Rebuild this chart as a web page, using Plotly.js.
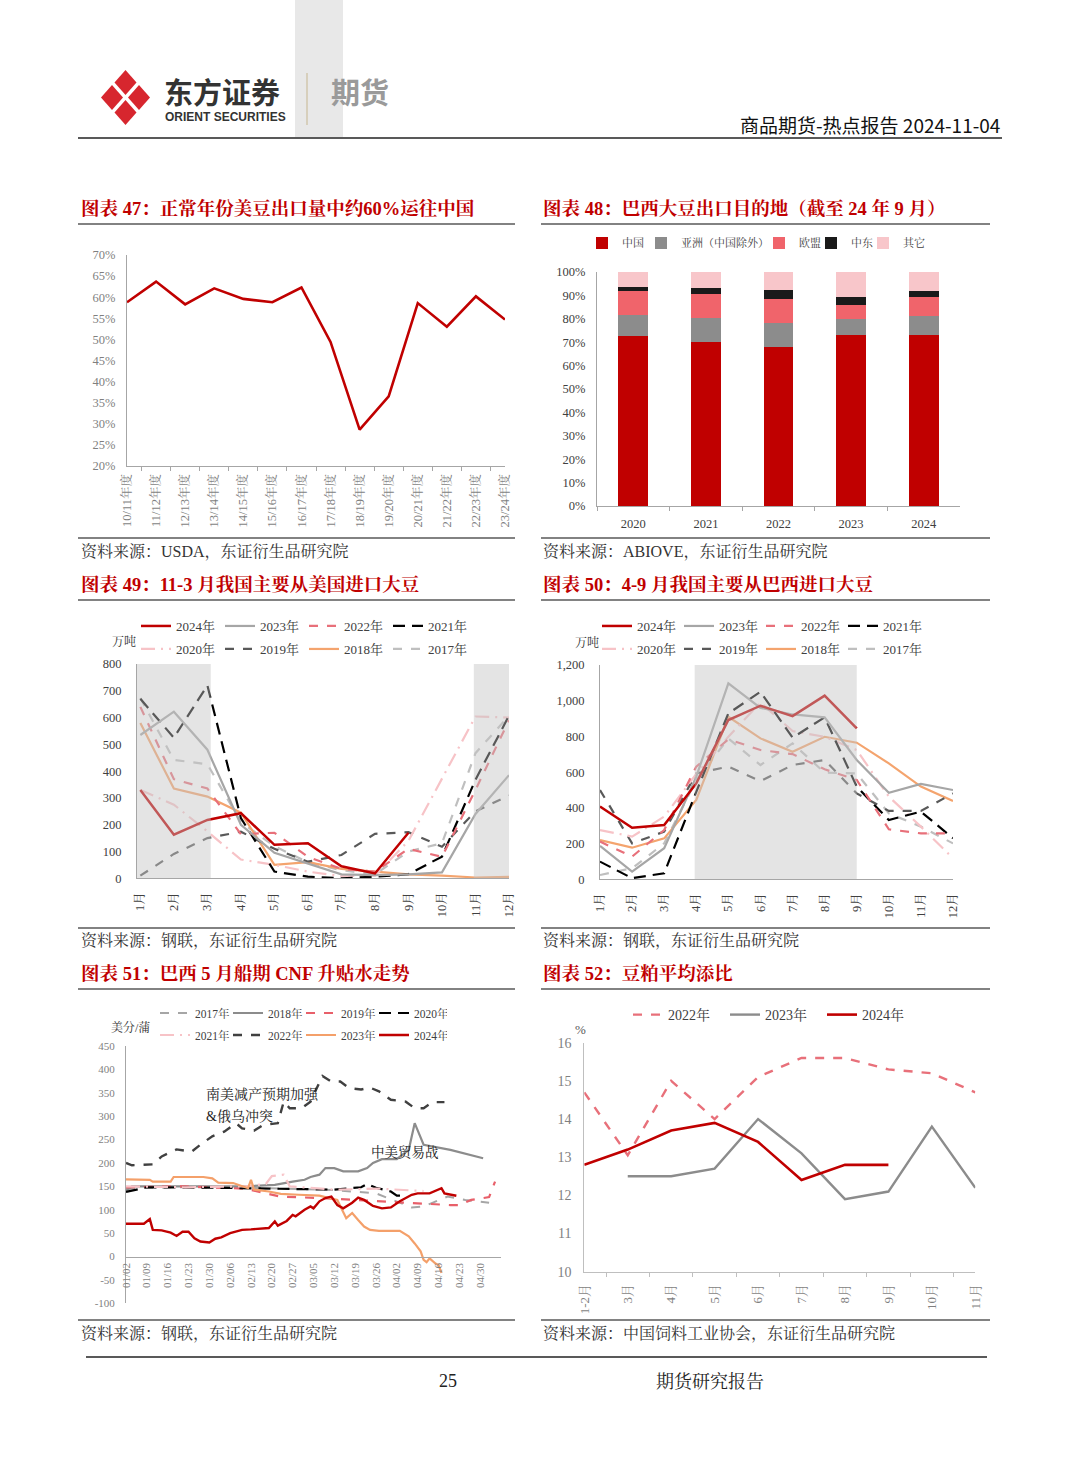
<!DOCTYPE html>
<html><head><meta charset="utf-8">
<script src="https://cdn.plot.ly/plotly-3.0.1.min.js"></script>
<style>body{margin:0;background:#fff}#chart{width:1080px;height:1466px}</style>
</head><body><div id="chart"></div><script>
// ---------------- DATA ----------------
// Chart 47
const seasons47 = ['10/11年度','11/12年度','12/13年度','13/14年度','14/15年度','15/16年度','16/17年度','17/18年度','18/19年度','19/20年度','20/21年度','21/22年度','22/23年度','23/24年度'];
const share47 = [58.8, 63.7, 58.3, 62.1, 59.6, 58.8, 62.3, 49.4, 28.6, 36.5, 58.6, 53.0, 60.2, 54.7];
// Chart 48
const years48 = ['2020','2021','2022','2023','2024'];
const names48 = ['中国','亚洲（中国除外）','欧盟','中东','其它'];
const china48 = [72.7, 70.0, 68.0, 73.0, 73.0];
const asia48 = [9.0, 10.3, 10.3, 7.0, 8.1];
const eu48 = [10.0, 10.4, 10.0, 6.1, 8.2];
const me48 = [1.7, 2.4, 4.1, 3.2, 2.6];
const other48 = [6.6, 6.9, 7.6, 10.7, 8.1];
// Chart 49 / 50
const months = ['1月','2月','3月','4月','5月','6月','7月','8月','9月','10月','11月','12月'];
const yearNames = ['2024年','2023年','2022年','2021年','2020年','2019年','2018年','2017年'];
const us24 = [330,163,218,243,125,131,45,18,170,null,null,null];
const us23 = [535,622,480,200,95,55,15,12,15,22,240,385];
const us22 = [640,370,335,165,170,80,35,25,110,80,330,590];
const us21 = [670,525,720,225,25,6,0,6,15,81,368,607];
const us20 = [330,275,175,70,50,25,8,10,140,370,604,600];
const us19 = [10,91,150,174,110,62,87,166,172,118,250,309];
const us18 = [580,335,305,245,50,60,35,25,15,10,3,5];
const us17 = [673,442,426,210,120,60,30,15,100,131,467,607];
const br24 = [407,289,304,537,892,972,914,1028,845,null,null,null];
const br23 = [187,43,174,575,1097,960,923,907,668,485,534,500];
const br22 = [211,127,276,631,784,724,701,616,556,280,257,257];
const br21 = [99,6,34,490,929,1050,793,907,519,332,379,230];
const br20 = [276,239,351,590,798,990,830,798,724,463,295,118];
const br19 = [500,201,267,593,631,550,640,668,481,383,383,481];
const br18 = [220,177,229,444,910,789,714,798,765,649,519,438];
const br17 = [24,62,201,556,789,640,761,597,593,369,295,201];
const shade49 = [['1月','3月'],['11月','12月']];
const shade50 = [['4月','9月']];
// Chart 51 (dates within 2024 calendar, MM-DD)
const ticks51 = ['01/02','01/09','01/16','01/23','01/30','02/06','02/13','02/20','02/27','03/05','03/12','03/19','03/26','04/02','04/09','04/16','04/23','04/30'];
const names51 = ['2017年','2018年','2019年','2020年','2021年','2022年','2023年','2024年'];
const d51_2017 = ['01-02','01-16','02-06','02-27','03-12','03-26','04-02','04-07','04-11','04-15','04-19','04-25','05-03'];
const v51_2017 = [145,148,148,145,142,135,118,105,107,118,128,121,115];
const d51_2018 = ['01-02','01-04','01-22','02-11','02-21','02-24','02-27','03-02','03-04','03-07','03-09','03-12','03-15','03-20','03-23','03-25','03-28','04-02','04-06','04-08','04-11','04-20','05-01'];
const v51_2018 = [140,150,150,150,153,157,160,164,170,175,189,189,182,182,189,200,208,208,228,285,239,228,210];
const d51_2019 = ['01-02','01-22','02-11','02-23','03-07','03-18','03-29','04-09','04-20','04-23','04-27','05-03','05-05'];
const v51_2019 = [148,150,145,128,125,121,118,114,110,110,121,127,160];
const d51_2020 = ['01-02','01-09','02-01','02-21','03-12','03-21','03-23','03-26','03-31','04-02','04-04'];
const v51_2020 = [138,148,147,145,143,148,155,147,139,130,130];
const d51_2021 = ['01-02','01-22','02-11','02-18','02-20','02-24','02-26','03-12','03-27','04-07','04-11'];
const v51_2021 = [150,148,150,155,172,175,150,143,145,141,140];
const d51_2022 = ['01-02','01-04','01-11','01-14','01-19','01-24','01-27','01-31','02-04','02-08','02-10','02-14','02-17','02-22','02-24','02-26','03-01','03-04','03-08','03-11','03-14','03-17','03-21','03-24','03-27','03-31','04-05','04-08','04-11','04-14','04-18'];
const v51_2022 = [200,195,197,214,229,224,239,257,267,285,274,269,281,285,331,317,317,331,386,374,374,360,357,361,353,335,331,317,317,330,330];
const d51_2023 = ['01-02','01-10','01-11','01-17','01-18','01-28','01-31','02-02','02-07','02-12','02-13','02-14','02-19','02-23','02-29','03-07','03-09','03-13','03-16','03-18','03-20','03-22','03-24','03-27','04-03','04-06','04-08','04-10','04-11','04-12','04-13','04-15','04-16','04-17'];
const v51_2023 = [165,164,160,160,170,170,167,158,157,146,164,143,139,134,132,130,127,121,82,93,78,64,57,55,55,43,28,11,-7,-12,-4,-15,-18,-35];
const d51_2024 = ['01-02','01-08','01-10','01-11','01-14','01-17','01-19','01-21','01-23','01-25','01-27','01-30','02-01','02-03','02-06','02-08','02-10','02-13','02-19','02-21','02-22','02-25','02-27','02-28','03-02','03-04','03-05','03-07','03-09','03-11','03-13','03-15','03-18','03-20','03-22','03-25','03-28','03-31','04-03','04-07','04-09','04-13','04-17','04-18','04-22'];
const v51_2024 = [70,70,80,57,56,51,44,53,53,39,32,30,38,41,50,53,57,58,61,75,66,76,89,86,100,107,103,118,125,128,110,103,115,126,121,108,103,105,118,132,135,135,146,135,130];
// Chart 52
const months52 = ['1-2月','3月','4月','5月','6月','7月','8月','9月','10月','11月'];
const names52 = ['2022年','2023年','2024年'];
const ratio22 = [14.7,13.05,15.0,14.0,15.1,15.6,15.6,15.3,15.2,14.7];
const ratio23 = [null,12.5,12.5,12.7,14.0,13.1,11.9,12.1,13.8,12.2];
const ratio24 = [12.8,13.2,13.7,13.9,13.4,12.4,12.8,12.8,null,null];

// ---------------- HELPERS ----------------
const W = 1080, H = 1466;
const px = x => x / W;
const py = y => 1 - y / H;
const dx = (a, b) => [px(a), px(b)];
const dy = (top, bot) => [py(bot), py(top)];
const SERIF = '"Liberation Serif", "Noto Serif CJK SC", "Noto Sans CJK SC", serif';
const SANS = '"Noto Sans CJK SC", "Liberation Sans", sans-serif';
const RED = '#C00000';
const toDate = a => a.map(s => '2024-' + s);

function ax(extra) {
  return Object.assign({showgrid:false, zeroline:false, showline:true, linecolor:'#A6A6A6', linewidth:1,
    fixedrange:true, ticks:'', automargin:false}, extra);
}
function tf(size, color) { return {family: SERIF, size: size, color: color}; }

const yearStyles = {
  '2024年': {color: RED, width: 2.5, dash: 'solid'},
  '2023年': {color: '#A6A6A6', width: 2.2, dash: 'solid'},
  '2022年': {color: '#E8707A', width: 2.2, dash: 'dash'},
  '2021年': {color: '#000000', width: 2.2, dash: '12px,7px'},
  '2020年': {color: '#F7C3C7', width: 2.2, dash: '14px,6px,2px,6px'},
  '2019年': {color: '#595959', width: 2.2, dash: 'dash'},
  '2018年': {color: '#F4A46E', width: 2.2, dash: 'solid'},
  '2017年': {color: '#BFBFBF', width: 2.2, dash: 'dash'}
};

const traces = [];
// Chart 47
traces.push({type:'scatter', mode:'lines', x:seasons47, y:share47, xaxis:'x', yaxis:'y',
  line:{color:RED, width:2.6}, showlegend:false});
// Chart 48
const cols48 = ['#C00000','#8C8C8C','#F0646B','#1A1A1A','#F8C6CA'];
const lw48 = [14, 73, 7, 7, null];
[china48, asia48, eu48, me48, other48].forEach((vals, i) => {
  const t = {type:'bar', x:years48, y:vals, name:names48[i], xaxis:'x2', yaxis:'y2',
    marker:{color:cols48[i], line:{width:0}}, legend:'legend', legendrank:i};
  if (lw48[i]) t.legendwidth = lw48[i];
  traces.push(t);
});
// Chart 49 & 50
const us = [us24, us23, us22, us21, us20, us19, us18, us17];
const br = [br24, br23, br22, br21, br20, br19, br18, br17];
for (let i = yearNames.length - 1; i >= 0; i--) {
  const nm = yearNames[i], st = yearStyles[nm];
  traces.push({type:'scatter', mode:'lines', x:months, y:us[i], name:nm, xaxis:'x3', yaxis:'y3',
    line:{color:st.color, width:st.width, dash:st.dash}, legend: i < 4 ? 'legend2' : 'legend3', legendrank:i});
  traces.push({type:'scatter', mode:'lines', x:months, y:br[i], name:nm, xaxis:'x4', yaxis:'y4',
    line:{color:st.color, width:st.width, dash:st.dash}, legend: i < 4 ? 'legend4' : 'legend5', legendrank:i});
}
// Chart 51
const style51 = [
  {color:'#A6A6A6', width:2, dash:'dash'},
  {color:'#8C8C8C', width:2.2, dash:'solid'},
  {color:'#E8606A', width:2.2, dash:'dash'},
  {color:'#000000', width:2.2, dash:'12px,7px'},
  {color:'#F7C3C7', width:2.2, dash:'14px,6px,2px,6px'},
  {color:'#404040', width:2.4, dash:'dash'},
  {color:'#F4A06A', width:2.2, dash:'solid'},
  {color:RED, width:2.4, dash:'solid'}
];
const d51 = [d51_2017, d51_2018, d51_2019, d51_2020, d51_2021, d51_2022, d51_2023, d51_2024];
const v51 = [v51_2017, v51_2018, v51_2019, v51_2020, v51_2021, v51_2022, v51_2023, v51_2024];
names51.forEach((nm, i) => {
  traces.push({type:'scatter', mode:'lines', x:toDate(d51[i]), y:v51[i], name:nm, xaxis:'x5', yaxis:'y5',
    line:style51[i], legend: i < 4 ? 'legend6' : 'legend7', legendrank:i});
});
// Chart 52
const style52 = [{color:'#E8707A', width:2.4, dash:'dash'}, {color:'#8C8C8C', width:2.4, dash:'solid'}, {color:RED, width:2.6, dash:'solid'}];
[ratio22, ratio23, ratio24].forEach((vals, i) => {
  traces.push({type:'scatter', mode:'lines', x:months52, y:vals, name:names52[i], xaxis:'x6', yaxis:'y6',
    line:style52[i], legend:'legend8', legendrank:i});
});

// ---------------- AXES ----------------
const range49 = [0, 800], range50 = [0, 1200], range51 = [-100, 450];
const dom51 = dy(1046, 1303.3);
const pos51 = dom51[0] + (dom51[1] - dom51[0]) * (0 - range51[0]) / (range51[1] - range51[0]);
const yt51 = []; for (let v = range51[0]; v <= range51[1]; v += 50) yt51.push(v);

const layout = {
  width: W, height: H, margin:{l:0, r:0, t:0, b:0}, paper_bgcolor:'#fff', plot_bgcolor:'rgba(0,0,0,0)',
  barmode:'stack', bargap:0.59, hovermode:false, showlegend:true,
  xaxis: ax({domain:dx(127,505), anchor:'y', type:'category', tickangle:-90, ticks:'outside', tickson:'boundaries',
    ticklen:4, tickcolor:'#A6A6A6', tickfont:tf(12.5,'#7F7F7F'), ticklabelstandoff:2}),
  yaxis: ax({domain:dy(255,466), anchor:'x', range:[20,70], dtick:5, ticksuffix:'%', tickfont:tf(12.5,'#7F7F7F'), ticklabelstandoff:8}),
  xaxis2: ax({domain:dx(597,960), anchor:'y2', type:'category', ticks:'outside', tickson:'boundaries',
    ticklen:4, tickcolor:'#A6A6A6', tickfont:tf(12.5,'#404040'), ticklabelstandoff:6}),
  yaxis2: ax({domain:dy(272,506), anchor:'x2', range:[0,100], dtick:10, ticksuffix:'%', tickfont:tf(12.5,'#404040'), ticklabelstandoff:8}),
  xaxis3: ax({domain:dx(137,509), anchor:'y3', type:'category', tickangle:-90, tickfont:tf(12.5,'#404040'), ticklabelstandoff:8}),
  yaxis3: ax({domain:dy(664,878.3), anchor:'x3', range:range49, dtick:100, tickfont:tf(12.5,'#404040'), ticklabelstandoff:12}),
  xaxis4: ax({domain:dx(600,953), anchor:'y4', type:'category', tickangle:-90, tickfont:tf(12.5,'#404040'), ticklabelstandoff:8}),
  yaxis4: ax({domain:dy(665,879.3), anchor:'x4', range:range50, dtick:200, tickformat:',', tickfont:tf(12.5,'#404040'), ticklabelstandoff:12}),
  xaxis5: ax({domain:dx(126,501), anchor:'free', position:pos51, type:'date', range:['2024-01-02','2024-05-07'],
    tickvals: ticks51.map(t => '2024-' + t.replace('/','-')), ticktext: ticks51, tickangle:-90,
    tickfont:tf(11,'#7F7F7F'), ticklabelstandoff:1}),
  yaxis5: ax({domain:dom51, anchor:'x5', range:range51, tickvals:yt51, ticktext:yt51.map(String), tickfont:tf(11,'#7F7F7F'), ticklabelstandoff:8}),
  xaxis6: ax({domain:dx(584.3,975.3), anchor:'y6', type:'category', tickangle:-90, ticks:'outside', tickson:'boundaries',
    ticklen:4, tickcolor:'#BFBFBF', linecolor:'#BFBFBF', tickfont:tf(13,'#7F7F7F'), ticklabelstandoff:6}),
  yaxis6: ax({domain:dy(1042.7,1271.7), anchor:'x6', range:[10,16], dtick:1, linecolor:'#BFBFBF', tickfont:tf(14,'#7F7F7F'), ticklabelstandoff:9})
};

function leg(x, y, ew, size, anchor) {
  const o = {x:px(x), y:py(y), xanchor:anchor || 'left', yanchor:'middle', orientation:'h', bgcolor:'rgba(0,0,0,0)',
    borderwidth:0, font:{family:SERIF, size:size, color:'#404040'}, itemclick:false, itemdoubleclick:false, traceorder:'normal'};
  if (ew) { o.entrywidth = ew; o.entrywidthmode = 'pixels'; }
  return o;
}
layout.legend = leg(582, 243, null, 11);
layout.legend2 = leg(136, 626, 39, 13);
layout.legend3 = leg(136, 649, 39, 13);
layout.legend4 = leg(597, 626, 37, 13);
layout.legend5 = leg(597, 649, 37, 13);
layout.legend6 = leg(155, 1013, 28, 11.5);
layout.legend7 = leg(155, 1035, 28, 11.5);
layout.legend8 = leg(628, 1015, 52, 14);

// ---------------- SHAPES ----------------
const shapes = [];
function line(x0, y0, x1, y1, color, width) {
  shapes.push({type:'line', xref:'paper', yref:'paper', x0:px(x0), y0:py(y0), x1:px(x1), y1:py(y1), line:{color:color, width:width}});
}
shapes.push({type:'rect', xref:'paper', yref:'paper', x0:px(295), x1:px(343), y0:py(137), y1:py(0), fillcolor:'#E8E8E8', line:{width:0}, layer:'below'});
line(78, 138, 1002, 138, '#222', 1.5);
line(307, 73, 307, 125, '#CBBE9E', 1.2);
// logo: four diamonds
function diamond(cx, cy, hx, hy) {
  const p = [[cx, cy - hy], [cx + hx, cy], [cx, cy + hy], [cx - hx, cy]];
  return 'M' + p.map(q => px(q[0]) + ',' + py(q[1])).join('L') + 'Z';
}
const lc = [125.5, 97.5];
[[0,-15],[-13.5,0],[13.5,0],[0,15]].forEach(o => {
  shapes.push({type:'path', xref:'paper', yref:'paper', path:diamond(lc[0]+o[0], lc[1]+o[1], 11, 12.5), fillcolor:'#D7262E', line:{width:0}});
});
// section rules
[[78,515],[541,990]].forEach(r => {
  [224, 538, 600, 928, 989, 1320].forEach(y => line(r[0], y, r[1], y, '#595959', 1.4));
});
line(86, 1357, 987, 1357, '#222', 1.5);
// shaded periods (drawn above lines, semi transparent)
function catIdx(cats, c) { return cats.indexOf(c); }
shade49.forEach((s, k) => {
  const a = catIdx(months, s[0]), b = catIdx(months, s[1]);
  shapes.push({type:'rect', xref:'x3', yref:'y3', x0: a - (k === 0 ? 0.1 : 0.05), x1: b + (k === 0 ? 0.1 : 0), y0:range49[0], y1:range49[1],
    fillcolor:'#C4C4C4', opacity:0.45, line:{width:0}, layer:'above'});
});
shade50.forEach(s => {
  const a = catIdx(months, s[0]), b = catIdx(months, s[1]);
  shapes.push({type:'rect', xref:'x4', yref:'y4', x0:a - 0.05, x1:b, y0:range50[0], y1:range50[1],
    fillcolor:'#C4C4C4', opacity:0.45, line:{width:0}, layer:'above'});
});
layout.shapes = shapes;

// ---------------- TEXT ----------------
const ann = [];
function txt(x, y, text, size, color, family, xanchor) {
  ann.push({xref:'paper', yref:'paper', x:px(x), y:py(y), text:text, showarrow:false, xanchor:xanchor || 'left', yanchor:'middle',
    font:{family:family || SANS, size:size, color:color}});
}
txt(162, 91, '<b>东方证券</b>', 29, '#333333', SANS);
txt(163, 117, '<b>ORIENT SECURITIES</b>', 12, '#333333', '"Liberation Sans", Arial, sans-serif');
txt(329, 91, '<b>期货</b>', 29, '#9A9A9A', SANS);
txt(1002, 124, '商品期货-热点报告 2024-11-04', 19, '#111111', SANS, 'right');
const titleFont = '"Liberation Serif", "Noto Serif CJK SC", "Noto Sans CJK SC", serif';
const TS = 18.5;
txt(79, 209, '<b>图表 47：正常年份美豆出口量中约60%运往中国</b>', TS, RED, titleFont);
txt(541, 209, '<b>图表 48：巴西大豆出口目的地（截至 24 年 9 月）</b>', TS, RED, titleFont);
txt(79, 585, '<b>图表 49：11-3 月我国主要从美国进口大豆</b>', TS, RED, titleFont);
txt(541, 585, '<b>图表 50：4-9 月我国主要从巴西进口大豆</b>', TS, RED, titleFont);
txt(79, 974, '<b>图表 51：巴西 5 月船期 CNF 升贴水走势</b>', TS, RED, titleFont);
txt(541, 974, '<b>图表 52：豆粕平均添比</b>', TS, RED, titleFont);
const SS = 16;
txt(79, 552, '资料来源：USDA，东证衍生品研究院', SS, '#333333', titleFont);
txt(541, 552, '资料来源：ABIOVE，东证衍生品研究院', SS, '#333333', titleFont);
txt(79, 941, '资料来源：钢联，东证衍生品研究院', SS, '#333333', titleFont);
txt(541, 941, '资料来源：钢联，东证衍生品研究院', SS, '#333333', titleFont);
txt(79, 1334, '资料来源：钢联，东证衍生品研究院', SS, '#333333', titleFont);
txt(541, 1334, '资料来源：中国饲料工业协会，东证衍生品研究院', SS, '#333333', titleFont);
txt(124, 641, '万吨', 12, '#333333', titleFont, 'center');
txt(587, 642, '万吨', 12, '#333333', titleFont, 'center');
txt(130, 1027, '美分/蒲', 12, '#333333', titleFont, 'center');
txt(580, 1029, '%', 13, '#595959', titleFont, 'center');
txt(204, 1094, '南美减产预期加强', 14, '#222222', titleFont);
txt(204, 1116, '&俄乌冲突', 14, '#222222', titleFont);
txt(369, 1152, '中美贸易战', 13.5, '#222222', titleFont);
txt(448, 1381, '25', 18, '#222222', titleFont, 'center');
txt(710, 1381, '期货研究报告', 18, '#222222', titleFont, 'center');
layout.annotations = ann;

Plotly.newPlot('chart', traces, layout, {staticPlot:true, displayModeBar:false});
</script></body></html>
